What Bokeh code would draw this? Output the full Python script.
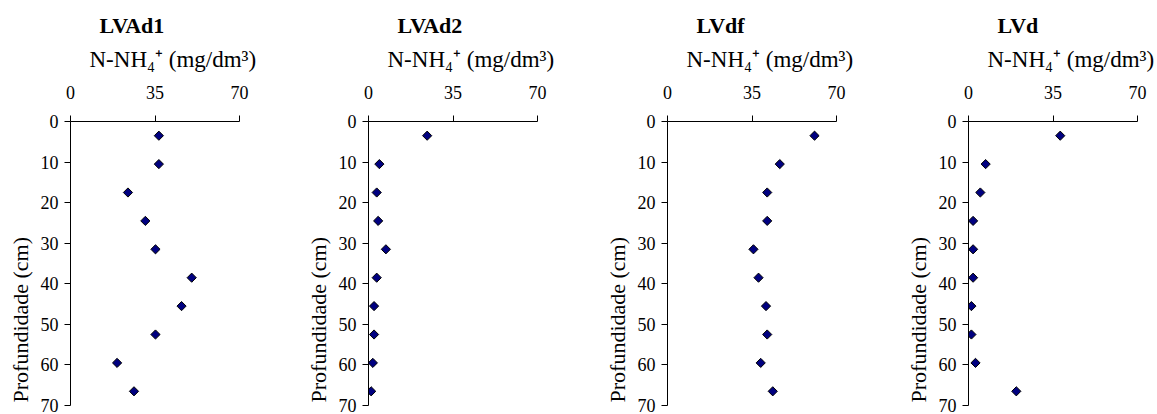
import math
from bokeh.plotting import figure
from bokeh.layouts import row
from bokeh.models import Range1d, FixedTicker, Title, ColumnDataSource
from bokeh.embed import file_html
from bokeh.resources import INLINE

# ---- data ----
depth = [3.5, 10.5, 17.5, 24.5, 31.5, 38.5, 45.5, 52.5, 59.5, 66.5]
lvad1 = [36.6, 36.6, 23.8, 31.0, 35.2, 50.2, 46.0, 35.2, 19.3, 26.3]
lvad2 = [24.3, 4.5, 3.4, 4.0, 7.2, 3.4, 2.3, 2.3, 1.8, 1.1]
lvdf = [60.9, 46.5, 41.3, 41.3, 35.6, 37.7, 40.8, 41.3, 38.6, 43.6]
lvd = [38.0, 7.1, 4.9, 1.9, 1.9, 1.9, 1.2, 1.2, 2.9, 19.8]

titles = ["LVAd1", "LVAd2", "LVdf", "LVd"]
series = [lvad1, lvad2, lvdf, lvd]
x_ticks = [0, 35, 70]
y_ticks = [0, 10, 20, 30, 40, 50, 60, 70]
x_label = "N-NH\u2084\u207a (mg/dm\u00b3)"
y_label = "Profundidade (cm)"

FONT = "Liberation Serif"
FW, FH = 169, 284
left_borders = [70, 72, 73, 73]
right_borders = [57, 57, 59, 20]

figs = []
for i in range(4):
    p = figure(
        output_backend="svg", toolbar_location=None,
        frame_width=FW, frame_height=FH,
        min_border_left=left_borders[i], min_border_right=right_borders[i],
        min_border_top=121, min_border_bottom=9,
        x_range=Range1d(0, 70), y_range=Range1d(70, 0),
        x_axis_location="above",
        background_fill_color="white", border_fill_color="white",
    )
    p.outline_line_color = None
    p.grid.visible = False
    for ax in (p.xaxis[0], p.yaxis[0]):
        ax.axis_line_color = "black"
        ax.axis_line_width = 1
        ax.major_tick_line_color = "black"
        ax.major_tick_in = 0
        ax.major_tick_out = 6
        ax.minor_tick_line_color = None
        ax.major_label_text_font = FONT
        ax.major_label_text_font_size = "18px"
        ax.major_label_text_color = "black"
    p.xaxis[0].ticker = FixedTicker(ticks=x_ticks)
    p.yaxis[0].ticker = FixedTicker(ticks=y_ticks)
    p.xaxis[0].major_label_standoff = 17
    p.yaxis[0].major_label_standoff = 6

    src = ColumnDataSource(dict(x=series[i], y=depth))
    p.scatter("x", "y", source=src, marker="square", size=6.5, angle=math.pi / 4,
              fill_color="#000080", line_color="#000000", line_width=1)

    # subtitle (x quantity) just above the tick labels
    p.add_layout(Title(text=x_label, align="left", offset=19, standoff=18,
                       vertical_align="top",
                       text_font=FONT, text_font_size="23px", text_font_style="normal",
                       text_color="black"), "above")
    # y label on the left, starting near the bottom of the frame
    p.add_layout(Title(text=y_label, align="left", offset=3, standoff=10,
                       text_font=FONT, text_font_size="22px", text_font_style="normal",
                       text_color="black"), "left")
    # main title (outermost)
    p.title.text = titles[i]
    p.title.align = "left"
    p.title.offset = 29
    p.title.standoff = 0
    p.title.text_font = FONT
    p.title.text_font_size = "22px"
    p.title.text_font_style = "bold"
    p.title.text_color = "black"
    figs.append(p)

layout = row(*figs)
open("out.html", "w").write(file_html(layout, INLINE))
